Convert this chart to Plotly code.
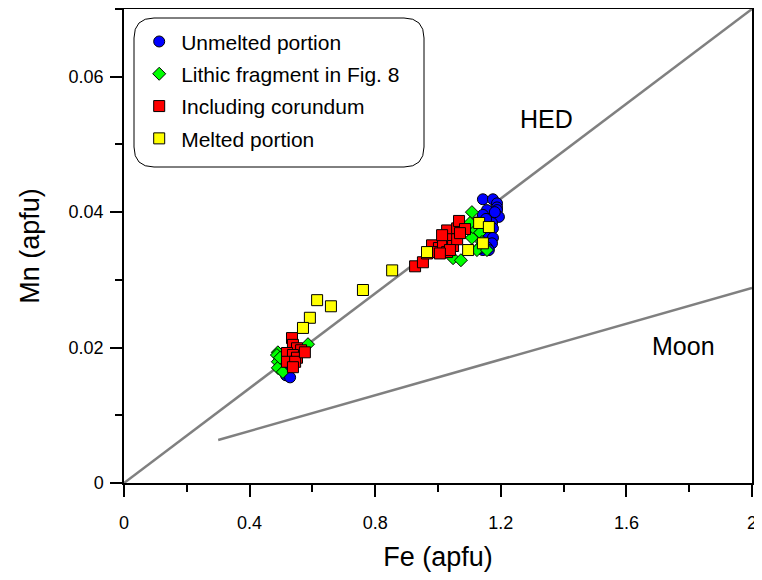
import plotly.graph_objects as go

# ---- data ----
unmelted_fe = [1.143, 1.175, 1.188, 1.188, 1.188, 1.166, 1.156, 1.143, 1.175, 1.194,
               1.156, 1.172, 1.175, 1.159, 1.175, 1.172, 1.156, 1.143, 1.162, 1.134,
               1.153, 1.181, 0.516, 0.529, 0.503]
unmelted_mn = [0.0419, 0.0419, 0.0413, 0.0407, 0.0403, 0.0398, 0.0403, 0.0396, 0.0393, 0.0393,
               0.0385, 0.0384, 0.0376, 0.0369, 0.0362, 0.0354, 0.0348, 0.0344, 0.0344, 0.0347,
               0.0390, 0.0400, 0.0159, 0.0156, 0.0167]

lithic_fe = [0.490, 0.487, 0.490, 0.490, 0.506, 0.586, 0.497,
             1.108, 1.048, 1.073, 1.108, 1.134, 1.111, 1.102, 1.140, 1.124, 1.156]
lithic_mn = [0.0193, 0.0189, 0.0179, 0.0170, 0.0164, 0.0205, 0.0185,
             0.0400, 0.0332, 0.0329, 0.0362, 0.0370, 0.0378, 0.0384, 0.0356, 0.0344, 0.0344]

corundum_fe = [0.535, 0.538, 0.551, 0.564, 0.519, 0.538, 0.551, 0.519, 0.545, 0.538, 0.576,
               0.927, 0.952, 0.965, 0.981, 1.003, 0.990, 1.016, 1.029, 1.061, 1.067,
               1.086, 1.045, 1.029, 1.048, 1.061, 1.070, 1.013, 1.038, 1.006]
corundum_mn = [0.0214, 0.0204, 0.0199, 0.0196, 0.0192, 0.0189, 0.0185, 0.0179, 0.0179, 0.0171, 0.0193,
               0.0320, 0.0326, 0.0339, 0.0351, 0.0347, 0.0341, 0.0354, 0.0373, 0.0376, 0.0387,
               0.0375, 0.0360, 0.0341, 0.0350, 0.0360, 0.0369, 0.0366, 0.0344, 0.0339]

melted_fe = [0.854, 0.761, 0.659, 0.615, 0.592, 0.570, 0.965, 1.096, 1.131, 1.162, 1.143]
melted_mn = [0.0314, 0.0285, 0.0261, 0.0270, 0.0244, 0.0229, 0.0341, 0.0344, 0.0384, 0.0378, 0.0354]

hed_fe = [0.0, 2.0]
hed_mn = [0.0, 0.07]
moon_fe = [0.3, 2.0]
moon_mn = [0.00635, 0.0288]

x_ticks = [0, 0.4, 0.8, 1.2, 1.6, 2]
x_ticklabels = ["0", "0.4", "0.8", "1.2", "1.6", "2"]
y_ticks = [0, 0.02, 0.04, 0.06]
y_ticklabels = ["0", "0.02", "0.04", "0.06"]

FONT = "Liberation Sans, Arial, sans-serif"
LINE_GRAY = "#808080"

fig = go.Figure()

fig.add_trace(go.Scatter(x=hed_fe, y=hed_mn, mode="lines", showlegend=False,
                         line=dict(color=LINE_GRAY, width=2.5), hoverinfo="skip"))
fig.add_trace(go.Scatter(x=moon_fe, y=moon_mn, mode="lines", showlegend=False,
                         line=dict(color=LINE_GRAY, width=2.5), hoverinfo="skip"))

mk_line = dict(color="black", width=1)
fig.add_trace(go.Scatter(x=unmelted_fe, y=unmelted_mn, mode="markers", name="Unmelted portion",
                         legendgroup="a",
                         marker=dict(symbol="circle", size=11, color="#0000ff", line=mk_line)))
fig.add_trace(go.Scatter(x=lithic_fe, y=lithic_mn, mode="markers", name="Lithic fragment in Fig. 8",
                         legendgroup="b",
                         marker=dict(symbol="diamond", size=10, color="#00ff00", line=mk_line)))
fig.add_trace(go.Scatter(x=corundum_fe, y=corundum_mn, mode="markers", name="Including corundum",
                         legendgroup="c",
                         marker=dict(symbol="square", size=11, color="#ff0000", line=mk_line)))
fig.add_trace(go.Scatter(x=melted_fe, y=melted_mn, mode="markers", name="Melted portion",
                         legendgroup="d",
                         marker=dict(symbol="square", size=11, color="#ffff00", line=mk_line)))

# plot area in the page: x 124..752, y 9..483 ; page body has an 8px margin
W, H = 754, 564
L, R, T, B = 116, 10, 1, 89
pw, ph = W - L - R, H - T - B

# rounded legend box (paper coords)
x0, x1 = (134 - 124) / pw, (424 - 124) / pw
y1, y0 = (483 - 18) / ph, (483 - 167) / ph
rx, ry = 20 / pw, 20 / ph
path = (f"M {x0+rx},{y0} L {x1-rx},{y0} Q {x1},{y0} {x1},{y0+ry} "
        f"L {x1},{y1-ry} Q {x1},{y1} {x1-rx},{y1} L {x0+rx},{y1} "
        f"Q {x0},{y1} {x0},{y1-ry} L {x0},{y0+ry} Q {x0},{y0} {x0+rx},{y0} Z")
fig.add_shape(type="path", path=path, xref="paper", yref="paper",
              line=dict(color="black", width=1), fillcolor="white", layer="above")

fig.add_annotation(x=1.347, y=0.0537, text="HED", showarrow=False,
                   font=dict(family=FONT, size=25, color="black"))
fig.add_annotation(x=1.783, y=0.0202, text="Moon", showarrow=False,
                   font=dict(family=FONT, size=25, color="black"))

fig.update_layout(
    width=W, height=H,
    margin=dict(l=L, r=R, t=T, b=B),
    plot_bgcolor="white", paper_bgcolor="white",
    font=dict(family=FONT, size=18, color="black"),
    showlegend=True,
    legend=dict(x=0.021, y=0.974, xanchor="left", yanchor="top",
                bgcolor="rgba(0,0,0,0)", borderwidth=0, itemwidth=34,
                font=dict(family=FONT, size=21), tracegroupgap=2,
                traceorder="grouped"),
    xaxis=dict(range=[0, 2], tickvals=x_ticks, ticktext=x_ticklabels, automargin=False,
               showgrid=False, zeroline=False, showline=True, linecolor="black", linewidth=1.5,
               mirror=True, ticks="outside", ticklen=12, tickwidth=1.5, tickcolor="black",
               minor=dict(dtick=0.2, ticks="outside", ticklen=7, tickwidth=1.5, tickcolor="black"),
               ticklabelstandoff=11,
               title=dict(text="Fe (apfu)", font=dict(family=FONT, size=27), standoff=15),
               tickfont=dict(family=FONT, size=18)),
    yaxis=dict(range=[0, 0.07], tickvals=y_ticks, ticktext=y_ticklabels, automargin=False,
               showgrid=False, zeroline=False, showline=True, linecolor="black", linewidth=1.5,
               mirror=True, ticks="outside", ticklen=12, tickwidth=1.5, tickcolor="black",
               minor=dict(dtick=0.01, ticks="outside", ticklen=7, tickwidth=1.5, tickcolor="black"),
               ticklabelstandoff=3,
               title=dict(text="Mn (apfu)", font=dict(family=FONT, size=27), standoff=21),
               tickfont=dict(family=FONT, size=18)),
)

fig.write_html("out.html")
